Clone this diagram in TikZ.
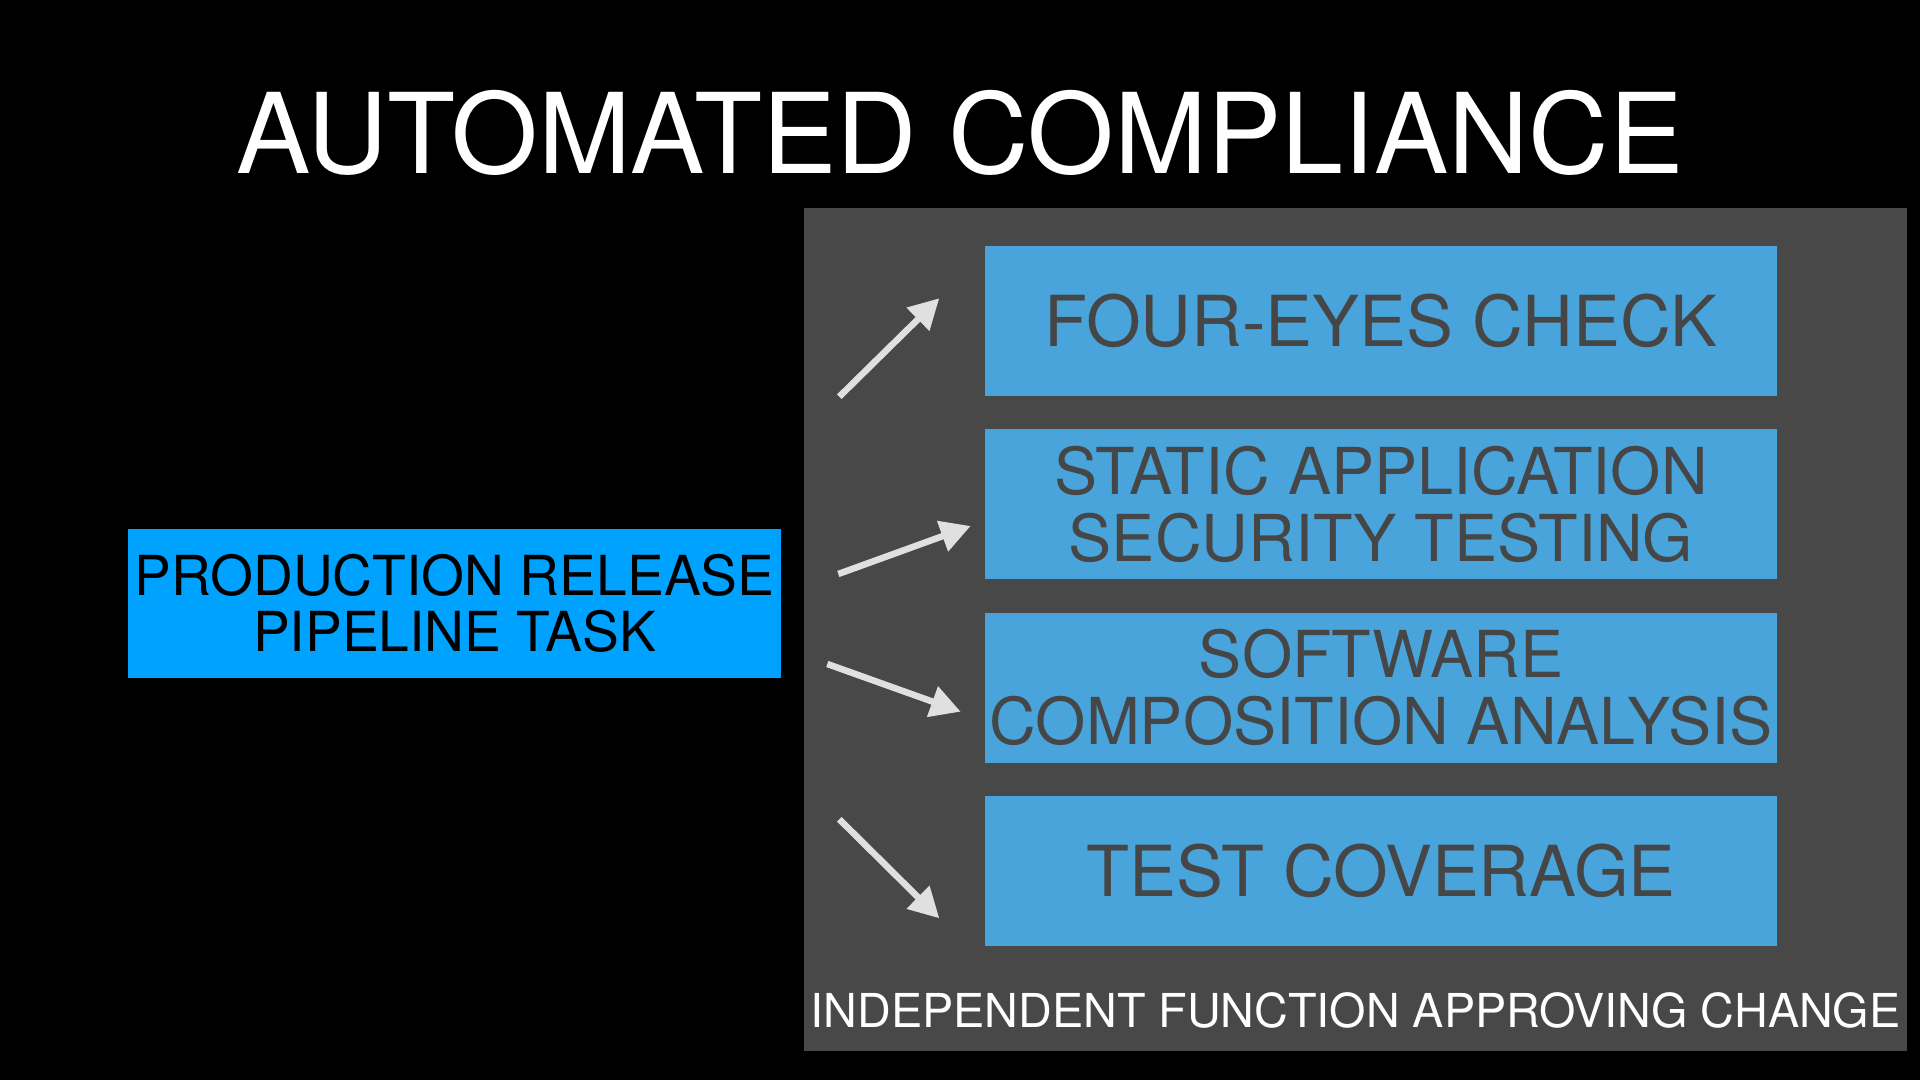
\documentclass[tikz,border=0pt]{standalone}
\usepackage{fontspec}
\setmainfont{TeX Gyre Heros}
\usetikzlibrary{arrows.meta, positioning}
\definecolor{panelgray}{RGB}{72, 72, 72}
\definecolor{chkblue}{RGB}{72, 164, 218}
\definecolor{chktext}{RGB}{70, 70, 70}
\definecolor{taskblue}{RGB}{0, 162, 255}
\definecolor{arrgray}{RGB}{224, 224, 224}

\begin{document}
\begin{tikzpicture}[
    node distance=0.32cm and 0.32cm,
    chk/.style={rectangle, fill=chkblue, text=chktext, align=center,
                minimum width=7.92cm, minimum height=1.5cm, inner sep=0pt,
                font=\fontsize{20}{21}\selectfont},
    chksmall/.style={chk, font=\fontsize{18.4}{19}\selectfont},
    taskmod/.style={rectangle, fill=taskblue, text=black, align=center,
                minimum width=6.53cm, minimum height=1.49cm, inner sep=0pt,
                font=\fontsize{15.7}{16}\selectfont},
    panel/.style={fill=panelgray, draw=none},
    arr/.style={-{Triangle[length=0.3cm, width=0.31cm]}, draw=arrgray, line width=0.065cm}
]

% background and page size
\fill[black] (0,0) rectangle (19.2,10.8);
\useasboundingbox (0,0) rectangle (19.2,10.8);

% title
\node[anchor=base, text=white, font=\fontsize{31.7}{32}\selectfont] (title) at (9.6,9.06)
    {AUTOMATED COMPLIANCE};

% =========== independent function panel ===========
\fill[panel] (8.04,0.29) rectangle (19.07,8.72);

\node[chk]                        (four) at (13.81,7.59) {FOUR-EYES CHECK};
\node[chksmall, below=of four]    (sast) {STATIC APPLICATION\\SECURITY TESTING};
\node[chksmall, below=of sast]    (sca)  {SOFTWARE\\COMPOSITION ANALYSIS};
\node[chk,      below=of sca]     (cov)  {TEST COVERAGE};

\node[anchor=base, text=white, font=\fontsize{13.3}{14}\selectfont] (indep) at (13.555,0.52)
    {INDEPENDENT FUNCTION APPROVING CHANGE};

% =========== pipeline task ===========
\node[taskmod] (task) at (4.545,4.765) {PRODUCTION RELEASE\\PIPELINE TASK};

% arrows
\coordinate (a1) at (8.393,6.833);  \coordinate (b1) at (9.393,7.817);
\coordinate (a2) at (8.383,5.06);   \coordinate (b2) at (9.707,5.54);
\coordinate (a3) at (8.273,4.16);   \coordinate (b3) at (9.607,3.683);
\coordinate (a4) at (8.393,2.607);  \coordinate (b4) at (9.393,1.617);

\draw[arr] (a1) -- (b1);
\draw[arr] (a2) -- (b2);
\draw[arr] (a3) -- (b3);
\draw[arr] (a4) -- (b4);

\end{tikzpicture}
\end{document}
